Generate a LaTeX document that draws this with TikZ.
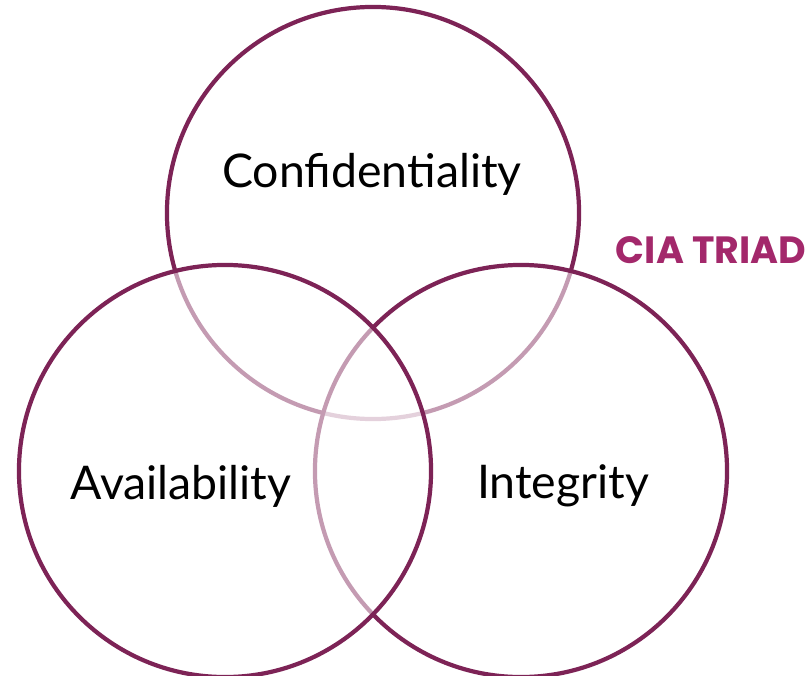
\documentclass[tikz,border=0pt]{standalone}
\usepackage{fontspec}
\setmainfont{Lato}
\newfontfamily\titlefont{Poppins}[UprightFont=*-Bold]
\definecolor{plum}{HTML}{7D2356}
\definecolor{berry}{HTML}{A3286B}

\tikzset{
  ring/.style={circle, draw=plum, line width=3pt, fill=white, fill opacity=0.55,
    minimum size=10.3cm, inner sep=0pt},
  label/.style={font=\fontsize{33}{40}\selectfont, text=black}
}

\begin{document}
\begin{tikzpicture}[x=0.025cm, y=-0.025cm]
    \useasboundingbox (0,0) rectangle (810,676);
    % the three circles, later ones wash out the lines below them
    \node[ring, fill opacity=0] (conf) at (373,213) {};
    \node[ring] (integ) at (521,471) {};
    \node[ring] (avail) at (225,471) {};
    % texts
    \node[label] (conftext) at (372,174) {Confidentiality};
    \node[label] (availtext) at (181,486) {Availability};
    \node[label] (integtext) at (563,486) {Integrity};
    \node[font=\titlefont\fontsize{27}{30}\selectfont, text=berry] (title) at (711,250) {CIA TRIAD};
\end{tikzpicture}
\end{document}
